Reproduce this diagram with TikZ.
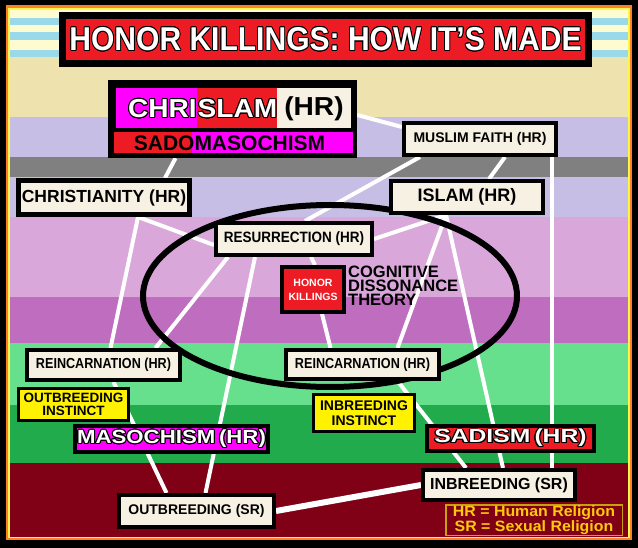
\documentclass[tikz,border=0pt]{standalone}
\usepackage{fontspec}
\setmainfont{Liberation Sans}
\usepackage{graphicx}
\usepackage{contour}
\contourlength{0.9pt}
\usepackage{xcolor}
\definecolor{hkred}{HTML}{ED1C24}
\definecolor{hkmagenta}{HTML}{FF00FF}
\definecolor{cream}{HTML}{F6F1E2}
\definecolor{hkyellow}{HTML}{FFF200}
\definecolor{paleyellow}{HTML}{FFFBD0}
\definecolor{paleblue}{HTML}{99D9EA}
\definecolor{tan}{HTML}{EEE3AF}
\definecolor{lavender}{HTML}{C6BEE4}
\definecolor{bandgray}{HTML}{808080}
\definecolor{lilac}{HTML}{D9A7D9}
\definecolor{orchid}{HTML}{BF6EBF}
\definecolor{mint}{HTML}{66E08C}
\definecolor{grass}{HTML}{22AB4C}
\definecolor{maroon}{HTML}{800016}
\definecolor{frameorange}{HTML}{FF7F27}
\definecolor{gold}{HTML}{FFC90E}
\definecolor{goldline}{HTML}{C9A10E}
\usepackage{tikz}
\usetikzlibrary{backgrounds}

\newcommand{\hx}[2]{\scalebox{#1}[1]{#2}}

\begin{document}
\begin{tikzpicture}[
    x=1pt, y=-1pt,
    box/.style={draw=black, line width=4pt, fill=cream, inner sep=0pt, text=black},
    tagbox/.style={box, line width=3pt, fill=hkyellow, align=center},
    plain/.style={inner sep=0pt},
    link/.style={draw=white, line width=4pt}
]
\useasboundingbox (0,0) rectangle (638,548);

% ==================== FRAME AND BANDS ====================
\begin{scope}[on background layer]
\fill[black] (0,0) rectangle (638,548);
\fill[frameorange] (6,5) rectangle (632,540);
\fill[yellow!70] (8,8) rectangle (630,538);
\fill[paleyellow] (10,10) rectangle (628,57);
\fill[paleblue] (10,18) rectangle (628,25);
\fill[paleblue] (10,32) rectangle (628,40);
\fill[paleblue] (10,50) rectangle (628,57);
\fill[tan] (10,57) rectangle (628,117);
\fill[lavender] (10,117) rectangle (628,157);
\fill[bandgray] (10,157) rectangle (628,177);
\fill[lavender] (10,177) rectangle (628,217);
\fill[lilac] (10,217) rectangle (628,297);
\fill[orchid] (10,297) rectangle (628,343);
\fill[mint] (10,343) rectangle (628,405);
\fill[grass] (10,405) rectangle (628,463);
\fill[maroon] (10,463) rectangle (628,537);
\end{scope}

% ==================== ELLIPSE ====================
\draw[line width=6pt] (330,296) ellipse [x radius=187pt, y radius=91pt];

% ==================== TITLE ====================
\node[box, line width=7pt, fill=hkred, minimum width=526pt, minimum height=48pt, text=white,
      font=\fontsize{33}{33}\selectfont\bfseries] (title) at (325.5,39.5)
    {\hx{0.91}{\contour{black}{HONOR KILLINGS: HOW IT'S MADE}}};

% ==================== CHRISLAM BLOCK ====================
\node[plain, fill=black, minimum width=249pt, minimum height=78pt] (chrislam) at (232.5,119) {};
\fill[hkmagenta] (116,88) rectangle (197,128);
\fill[hkred] (197,88) rectangle (277,128);
\fill[cream] (277,88) rectangle (351,128);
\fill[hkred] (114,132) rectangle (192,153);
\fill[hkmagenta] (192,132) rectangle (353,153);
\node[plain, anchor=east, text=white, font=\fontsize{26}{26}\selectfont\bfseries] (chri) at (197,109)
    {\hx{1.08}{\contour{black}{CHRI}}};
\node[plain, anchor=west, text=white, font=\fontsize{26}{26}\selectfont\bfseries] (slam) at (197.5,109)
    {\hx{1.08}{\contour{black}{SLAM}}};
\node[plain, font=\fontsize{26}{26}\selectfont\bfseries] (chrislamhr) at (314,109) {\hx{1.08}{(HR)}};
\node[plain, font=\fontsize{21}{21}\selectfont\bfseries] (sadomaso) at (229.5,143) {SADOMASOCHISM};

% ==================== RELIGION BOXES ====================
\node[box, minimum width=152pt, minimum height=32pt, font=\fontsize{14}{14}\selectfont\bfseries] (muslim) at (480,139) {MUSLIM FAITH (HR)};
\node[box, line width=5pt, minimum width=171pt, minimum height=34pt, font=\fontsize{17.5}{18}\selectfont\bfseries] (christ) at (104,197.5) {CHRISTIANITY (HR)};
\node[box, minimum width=152pt, minimum height=32pt, font=\fontsize{18}{18}\selectfont\bfseries] (islam) at (467,197) {ISLAM (HR)};
\node[box, minimum width=156pt, minimum height=32pt, font=\fontsize{15}{15}\selectfont\bfseries] (resurr) at (294,239) {\hx{0.9}{RESURRECTION (HR)}};

\node[box, fill=hkred, minimum width=62pt, minimum height=45pt, align=center, text=white,
      font=\fontsize{10.5}{14}\selectfont\bfseries] (honor) at (313,289.5) {HONOR\\KILLINGS};
\node[plain, anchor=north west, align=left, font=\fontsize{16.5}{14}\selectfont\bfseries] (cdt) at (348,266)
    {COGNITIVE\\DISSONANCE\\THEORY};

\node[box, minimum width=153pt, minimum height=30pt, font=\fontsize{14.5}{14.5}\selectfont\bfseries] (reinleft) at (103.5,365) {\hx{0.87}{REINCARNATION (HR)}};
\node[box, minimum width=153pt, minimum height=29pt, font=\fontsize{14.5}{14.5}\selectfont\bfseries] (reincenter) at (362.5,364.5) {\hx{0.87}{REINCARNATION (HR)}};

\node[tagbox, minimum width=110pt, minimum height=32pt, font=\fontsize{13.5}{13}\selectfont\bfseries] (outinst) at (73.5,404.5) {OUTBREEDING\\INSTINCT};
\node[tagbox, minimum width=101pt, minimum height=37pt, font=\fontsize{14}{15}\selectfont\bfseries] (ininst) at (364,413) {INBREEDING\\INSTINCT};

\node[box, fill=hkmagenta, minimum width=193pt, minimum height=26pt, text=white,
      font=\fontsize{19}{19}\selectfont\bfseries] (maso) at (171.5,439) {\hx{1.17}{\contour{black}{MASOCHISM\,(HR)}}};
\node[box, fill=hkred, minimum width=167pt, minimum height=25pt, text=white,
      font=\fontsize{19}{19}\selectfont\bfseries] (sadism) at (510.5,438.5) {\hx{1.3}{\contour{black}{SADISM\,(HR)}}};

\node[box, minimum width=152pt, minimum height=30pt, font=\fontsize{16}{16}\selectfont\bfseries] (inbreed) at (499,485) {INBREEDING (SR)};
\node[box, minimum width=155pt, minimum height=32pt, font=\fontsize{14}{14}\selectfont\bfseries] (outbreed) at (196.5,511) {OUTBREEDING (SR)};

\node[draw=goldline, line width=1.5pt, minimum width=176.5pt, minimum height=30.5pt, inner sep=0pt, align=center,
      text=gold, font=\fontsize{15}{13}\selectfont\bfseries] (legend) at (534,520)
    {\hx{1.06}{HR = Human Religion}\\\hx{1.06}{SR = Sexual Religion}};

% ==================== CONNECTORS ====================
\begin{scope}[on background layer]
\draw[link] ([yshift=4pt]chrislam.east) -- ([yshift=12pt]muslim.west);
\draw[link] ([xshift=-57pt]chrislam.south) -- ([xshift=61pt]christ.north);
\draw[link] ([xshift=-60pt]muslim.south) -- ([xshift=11pt]resurr.north);
\draw[link] ([xshift=25pt]muslim.south) -- ([xshift=22pt]islam.north);
\draw[link] ([xshift=72pt]muslim.south) -- ([xshift=53pt]inbreed.north);
\draw[link] ([xshift=34pt]christ.south) -- ([yshift=-6pt]resurr.west);
\draw[link] ([xshift=34pt]christ.south) -- ([xshift=7pt]reinleft.north);
\draw[link] ([xshift=-66pt]resurr.south) -- ([xshift=52pt]reinleft.north);
\draw[link] ([xshift=-39pt]resurr.south) -- ([xshift=9pt]outbreed.north);
\draw[link] ([xshift=17pt]resurr.south) -- ([xshift=2pt]honor.north);
\draw[link] ([xshift=9pt]honor.south) -- ([xshift=-32pt]reincenter.north);
\draw[link] ([xshift=-21pt]islam.south) -- (resurr.east);
\draw[link] ([xshift=-21pt]islam.south) -- ([xshift=35pt]reincenter.north);
\draw[link] ([xshift=-21pt]islam.south) -- ([xshift=4pt]inbreed.north);
\draw[link] ([xshift=10pt]reinleft.south) -- ([xshift=-30pt]outbreed.north);
\draw[link] ([xshift=35pt]reincenter.south) -- ([xshift=-33pt]inbreed.north);
\draw[link, line width=6pt] (outbreed.east) -- (inbreed.west);
\end{scope}

\end{tikzpicture}
\end{document}
